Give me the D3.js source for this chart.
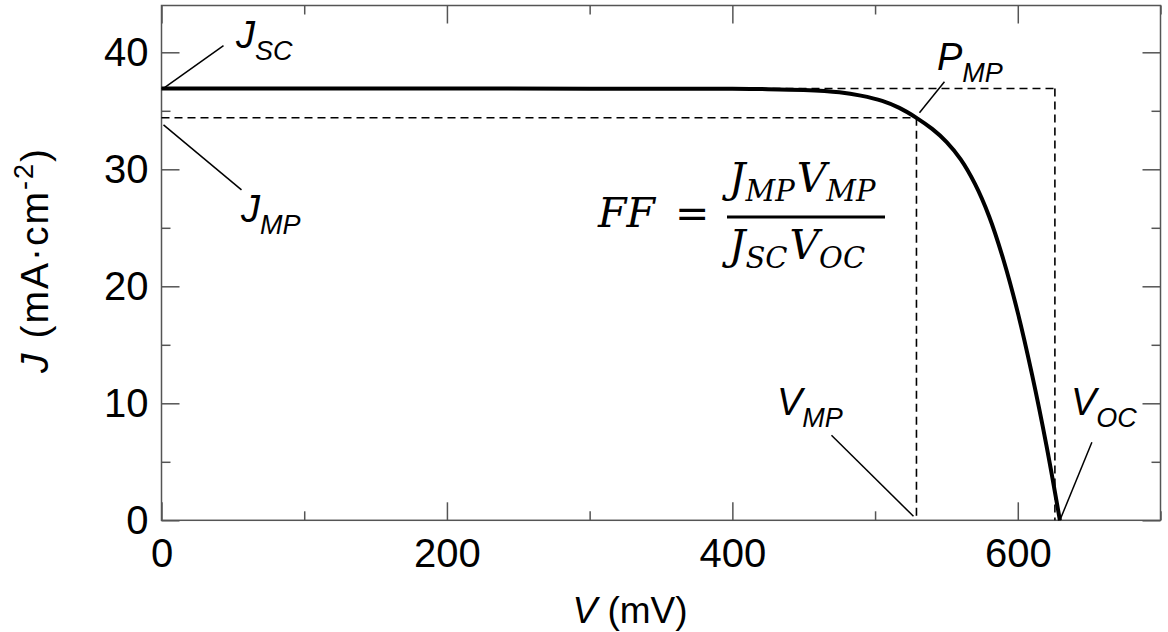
<!DOCTYPE html>
<html>
<head>
<meta charset="utf-8">
<script src="https://cdn.jsdelivr.net/npm/d3@7"></script>
<style>
  html, body { margin: 0; padding: 0; background: #fff; }
  svg { display: block; }
  text { fill: #000; }
</style>
</head>
<body>
<svg id="chart" width="1168" height="632"></svg>
<script>
// J–V curve of a solar cell (voltage in mV, current density in mA·cm⁻²)
const voltage = [0, 100, 200, 300, 400, 420, 450, 475, 490, 505, 517, 529, 540, 550, 560, 570, 580, 590, 600, 610, 620, 629.5];
const current = [36.9, 36.9, 36.9, 36.89, 36.88, 36.86, 36.78, 36.58, 36.3, 35.85, 35.25, 34.4, 33.45, 32.35, 30.85, 28.75, 25.95, 22.25, 17.75, 12.45, 6.45, 0];

// Characteristic points
const Jsc = 36.9;     // short-circuit current density
const Jmp = 34.4;     // current density at maximum power
const Vmp = 529;      // voltage at maximum power
const Voc = 629.5;    // open-circuit voltage
const vocGuide = 626; // right edge of the Jsc·Voc guide rectangle

// Axis ticks
const xMajor = [0, 200, 400, 600];
const xMinor = [100, 300, 500, 700];
const yMajor = [0, 10, 20, 30, 40];
const yMinor = [5, 15, 25, 35];

const sans = "'Liberation Sans', Arial, Helvetica, sans-serif";
const mathFont = "'DejaVu Serif', 'Liberation Serif', serif";

const svg = d3.select("#chart").style("font-family", sans);
const x = d3.scaleLinear().domain([0, 700]).range([161.5, 1160.5]);
const y = d3.scaleLinear().domain([0, 44]).range([520.3, 5.5]);
const [x0, x1] = x.range();
const [y0, y1] = y.range();

const frameColor = "#555";
const tickFont = 40;

// Inward ticks on all four sides
function ticks(axisGen, vals, size, tx, ty, labels) {
  const g = svg.append("g").attr("transform", `translate(${tx},${ty})`)
    .call(axisGen.tickValues(vals).tickSizeInner(-size).tickSizeOuter(0)
      .tickFormat(labels ? d3.format("d") : ""));
  g.select(".domain").remove();
  g.selectAll(".tick line").attr("stroke", frameColor).attr("stroke-width", 1.5);
  g.selectAll(".tick text").style("font-family", sans).attr("font-size", tickFont).attr("fill", "#000");
  return g;
}
ticks(d3.axisBottom(x), xMajor, 18, 0, y0, true).selectAll(".tick text").attr("y", 18);
ticks(d3.axisBottom(x), xMinor, 9, 0, y0, false);
ticks(d3.axisTop(x), xMajor, 18, 0, y1, false);
ticks(d3.axisTop(x), xMinor, 9, 0, y1, false);
ticks(d3.axisLeft(y), yMajor, 18, x0, 0, true).selectAll(".tick text").attr("x", -13);
ticks(d3.axisLeft(y), yMinor, 9, x0, 0, false);
ticks(d3.axisRight(y), yMajor, 18, x1, 0, false);
ticks(d3.axisRight(y), yMinor, 9, x1, 0, false);

// Plot frame
svg.append("rect")
  .attr("x", x0).attr("y", y1).attr("width", x1 - x0).attr("height", y0 - y1)
  .attr("fill", "none").attr("stroke", frameColor).attr("stroke-width", 1.5);

// Axis titles
const xt = svg.append("text").attr("x", 630).attr("y", 623)
  .attr("text-anchor", "middle").attr("font-size", 37);
xt.append("tspan").attr("font-style", "italic").text("V");
xt.append("tspan").text(" (mV)");

const yt = svg.append("text").attr("transform", "translate(48,260) rotate(-90)")
  .attr("text-anchor", "middle").attr("font-size", 39).attr("letter-spacing", 2);
yt.append("tspan").attr("font-style", "italic").text("J");
yt.append("tspan").text(" (mA·cm");
yt.append("tspan").attr("font-size", 27).attr("dy", -15).text("-2");
yt.append("tspan").attr("dy", 15).text(")");

// Dashed guides: Jmp·Vmp and Jsc·Voc rectangles
const guides = [
  [[0, Jmp], [Vmp, Jmp]],
  [[Vmp, Jmp], [Vmp, 0]],
  [[0, Jsc], [vocGuide, Jsc]],
  [[vocGuide, Jsc], [vocGuide, 0]]
];
svg.append("g").selectAll("line").data(guides).join("line")
  .attr("x1", d => x(d[0][0])).attr("y1", d => y(d[0][1]))
  .attr("x2", d => x(d[1][0])).attr("y2", d => y(d[1][1]))
  .attr("stroke", "#000").attr("stroke-width", 1.6).attr("stroke-dasharray", "8,5");

// J–V curve
const pts = voltage.map((v, i) => [v, current[i]]);
svg.append("path").datum(pts)
  .attr("d", d3.line().x(d => x(d[0])).y(d => y(d[1])).curve(d3.curveCatmullRom.alpha(0.5)))
  .attr("fill", "none").attr("stroke", "#000").attr("stroke-width", 4)
  .attr("stroke-linejoin", "round");

// Annotation leaders: anchor in data units, pixel offset at the anchor, label-end offset
const leaders = [
  { at: [0, Jsc], off: [3, -1], to: [62, -43] },
  { at: [0, Jmp], off: [2, 7], to: [80, 72] },
  { at: [Vmp, Jmp], off: [3, -5], to: [28, -36] },
  { at: [Vmp, 0], off: [-3, -4], to: [-85, -85] },
  { at: [Voc, 0], off: [0, 0], to: [32, -78] }
];
svg.append("g").selectAll("line").data(leaders).join("line")
  .attr("x1", d => x(d.at[0]) + d.off[0]).attr("y1", d => y(d.at[1]) + d.off[1])
  .attr("x2", d => x(d.at[0]) + d.to[0]).attr("y2", d => y(d.at[1]) + d.to[1])
  .attr("stroke", "#000").attr("stroke-width", 1.5);

// Labels with italic subscripts
function subLabel(px, py, main, sub) {
  const t = svg.append("text").attr("x", px).attr("y", py)
    .attr("font-size", 38).attr("font-style", "italic");
  t.append("tspan").text(main);
  t.append("tspan").attr("font-size", 27).attr("dy", 12).text(sub);
}
subLabel(236, 48, "J", "SC");
subLabel(241, 222, "J", "MP");
subLabel(937, 70, "P", "MP");
subLabel(777, 415, "V", "MP");
subLabel(1071, 415, "V", "OC");

// Fill-factor formula
svg.append("text").attr("x", 598).attr("y", 227).style("font-family", mathFont)
  .attr("font-style", "italic").attr("font-size", 41).text("FF");
svg.append("text").attr("x", 675).attr("y", 227).style("font-family", mathFont)
  .attr("font-size", 41).text("=");
svg.append("line").attr("x1", 727).attr("x2", 885).attr("y1", 217).attr("y2", 217)
  .attr("stroke", "#000").attr("stroke-width", 3);
function fracRow(px, py, parts) {
  const t = svg.append("text").attr("x", px).attr("y", py).style("font-family", mathFont)
    .attr("font-style", "italic");
  parts.forEach(([main, sub], i) => {
    t.append("tspan").attr("font-size", 41).attr("dy", i ? -9 : 0).attr("dx", i ? 2 : 0).text(main);
    t.append("tspan").attr("font-size", 29).attr("dy", 9).text(sub);
  });
}
fracRow(729, 192, [["J", "MP"], ["V", "MP"]]);
fracRow(729, 259, [["J", "SC"], ["V", "OC"]]);
</script>
</body>
</html>
